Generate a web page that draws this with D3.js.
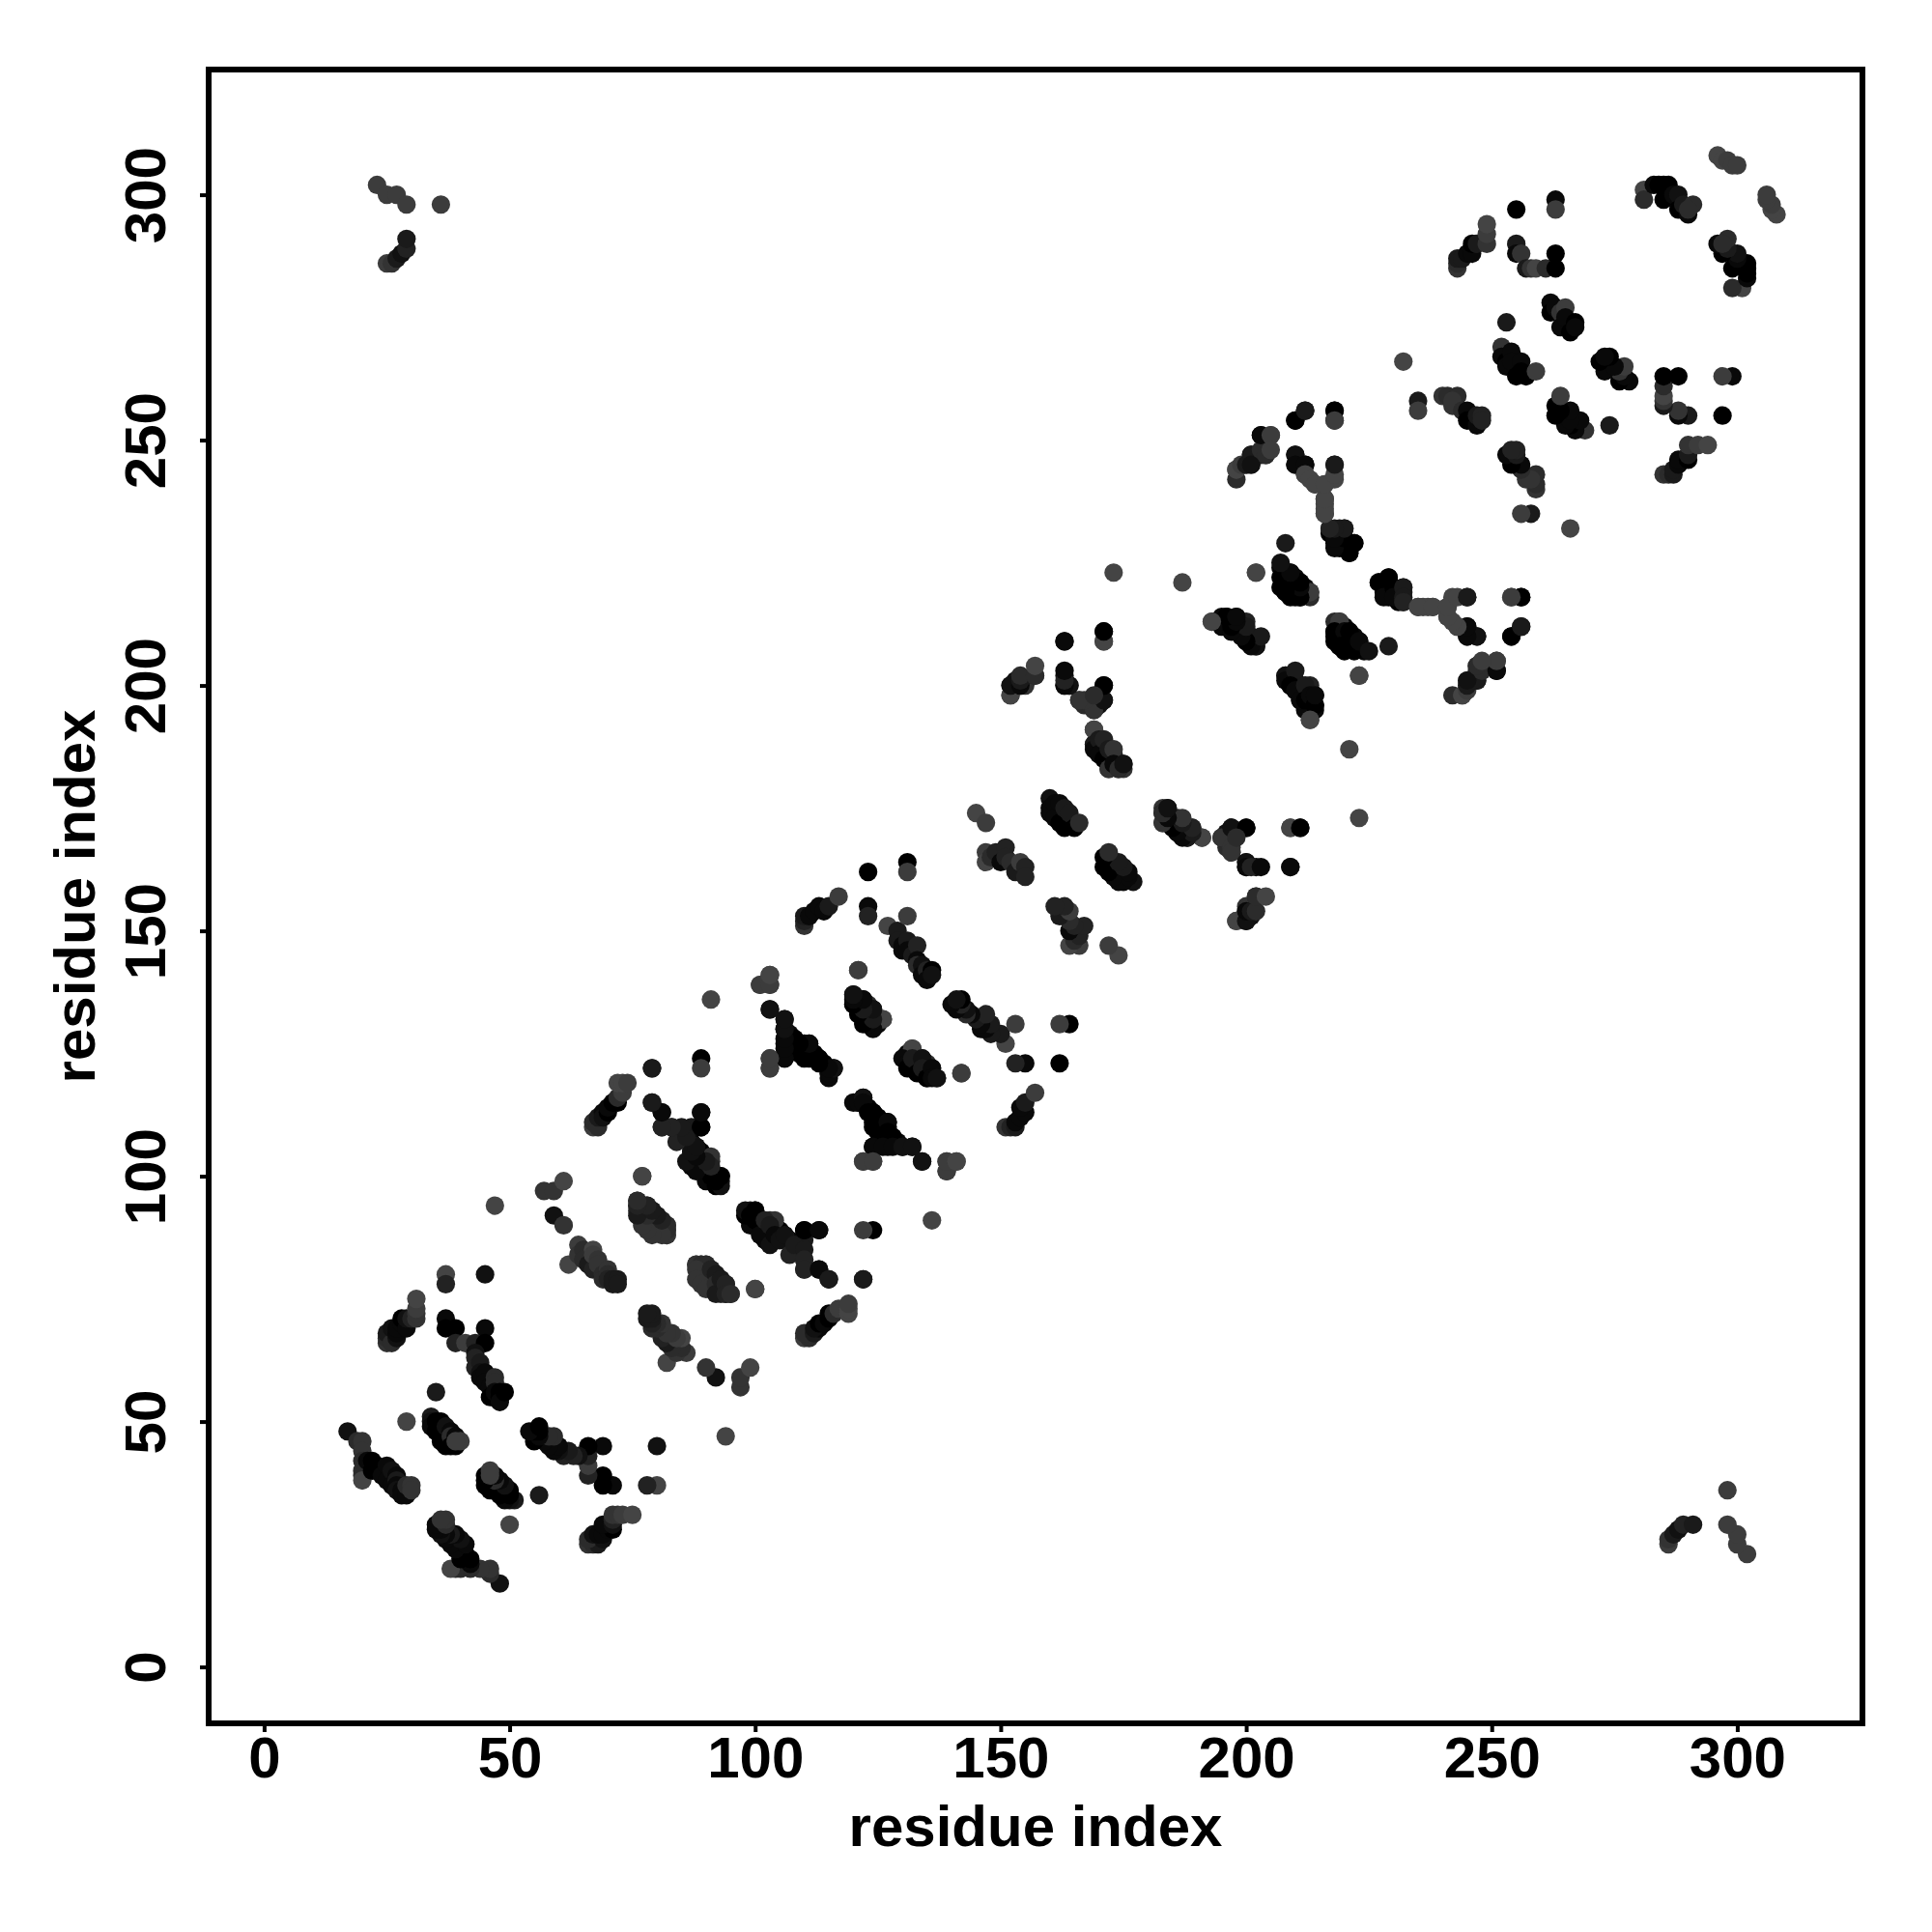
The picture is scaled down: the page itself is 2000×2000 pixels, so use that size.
<!DOCTYPE html>
<html><head><meta charset="utf-8">
<script src="https://cdn.jsdelivr.net/npm/d3@7"></script>
<style>html,body{margin:0;padding:0;background:#fff}svg{display:block}</style>
</head><body><div id="chart"></div>
<script>
// Contacts as [residue i, residue j, shade level 0 (black) .. 8 (dark grey)], i < j. The map is symmetric.
const contacts01 = [[17,48,2],[19,46,5],[20,46,6],[20,44,6],[20,42,5],[20,40,5],[20,39,5],[20,38,8],[21,42,1],[22,42,0],[22,40,0],[23,41,0],[24,40,0],[24,39,1],[25,41,1],[25,38,1],[26,40,2],[26,37,1],[27,39,1],[27,38,3],[27,37,1],[27,36,2],[28,36,1],[28,35,1],[29,35,1],[29,37,5],[30,37,6],[30,36,6]];
const contacts02 = [[29,50,8],[34,51,3],[34,50,2],[34,49,1],[35,50,0],[35,48,0],[36,50,0],[36,47,0],[36,46,0],[37,49,2],[37,45,0],[38,48,1],[38,47,5],[38,45,0],[39,47,1],[39,45,0],[40,46,7],[39,46,7],[35,56,3]];
const contacts03 = [[37,80,8],[37,78,4],[45,80,2]];
const contacts04 = [[25,66,6],[25,67,5],[25,68,3],[26,66,5],[27,67,2],[26,69,2],[27,68,1],[27,69,1],[28,70,1],[28,71,0],[29,69,1],[29,71,2],[30,71,4],[31,71,6],[31,72,6],[31,73,7],[31,75,8]];
const contacts05 = [[37,71,1],[37,69,0],[39,69,0],[39,66,4],[41,66,7],[43,66,4],[45,69,1],[45,66,0],[43,64,2],[43,63,4],[43,61,4],[44,62,3],[44,60,2],[44,59,1],[45,60,1],[45,58,1],[46,57,1],[46,55,0],[47,59,5],[47,58,5],[47,56,1],[48,56,0],[48,55,0],[48,54,1],[49,56,0]];
const contacts06 = [[47,94,8],[57,97,6],[59,97,6],[61,99,8],[59,92,2],[61,90,6]];
const contacts07 = [[62,82,8],[64,86,7],[64,84,6],[65,85,5],[65,83,5],[66,82,3],[67,81,4],[67,85,8],[67,84,7],[68,83,6],[68,82,6],[69,80,5],[69,79,5],[70,81,6],[70,80,5],[70,79,4],[71,78,3],[71,79,3],[72,79,3],[72,78,3]];
const contacts08 = [[67,110,7],[67,111,5],[68,110,5],[68,112,3],[69,113,1],[69,112,2],[70,113,0],[70,114,1],[71,115,0],[72,115,0],[72,116,5],[73,117,7],[72,119,8],[73,119,8],[74,119,7]];
const contacts09 = [[79,122,3],[89,124,0],[89,122,7],[79,115,3],[81,113,1],[81,110,7],[83,110,6],[85,109,6],[87,110,3],[89,113,0],[89,110,0],[87,107,1],[87,105,1],[87,104,1],[87,102,1],[88,106,6],[89,105,0],[91,103,5],[91,104,6],[90,99,1],[92,100,0],[92,98,0],[93,99,3],[93,100,0],[77,100,8]];
const contacts10 = [[76,95,5],[76,94,4],[76,93,5],[77,93,3],[78,94,2],[78,91,5],[79,93,3],[79,90,4],[80,92,4],[80,89,6],[81,91,5],[82,90,5],[82,89,5],[82,88,6]];
const contacts11 = [[88,82,6],[89,82,5],[90,82,5],[88,81,6],[88,79,6],[89,78,6],[90,77,6],[91,81,4],[92,80,3],[92,78,5],[92,76,3],[93,79,3],[94,78,4],[94,76,4],[95,76,5],[100,77,8]];
const contacts12 = [[98,93,2],[99,92,0],[100,93,0],[100,91,0],[101,88,1],[102,91,4],[103,90,3],[103,86,2],[104,88,1],[105,87,2],[106,88,2],[107,84,4],[108,86,3],[110,85,3],[110,83,4],[110,81,4],[110,89,0],[113,89,1],[113,81,1],[115,79,3],[122,79,3]];
const contacts13 = [[103,134,2],[106,132,2],[106,130,1],[106,127,1],[106,124,2],[103,124,8],[103,122,8],[107,129,1],[108,128,0],[109,125,0],[110,127,0],[110,124,0],[111,127,0],[112,125,0],[113,124,0],[114,123,0],[115,121,1],[116,122,2],[103,141,8],[101,139,7],[103,139,7],[91,136,8]];
const contacts14 = [[120,137,1],[120,135,1],[121,134,0],[122,136,1],[122,133,0],[123,135,5],[123,131,1],[124,134,2],[124,132,0],[125,131,1],[126,132,7],[121,142,7]];
const contacts15 = [[127,151,8],[129,150,3],[129,148,3],[130,147,1],[130,146,1],[131,148,3],[131,146,1],[132,145,3],[133,147,4],[133,144,1],[133,143,5],[134,143,2],[134,141,1],[135,142,4],[135,140,1],[136,142,0],[136,141,2],[123,162,0],[131,164,0],[131,162,7],[123,155,1],[123,153,4],[131,153,7]];
const contacts16 = [[110,151,6],[110,152,4],[110,153,3],[111,153,1],[112,154,1],[113,155,1],[114,154,1],[115,155,3],[117,157,7]];
const contacts17 = [[120,115,1],[121,115,1],[122,116,2],[122,115,1],[123,113,0],[124,113,0],[124,111,0],[125,110,0],[126,111,0],[126,108,0],[127,111,1],[127,109,0],[128,108,0],[124,106,1],[126,106,1],[128,106,1],[130,106,2],[132,106,2],[122,103,7],[124,103,7],[134,103,2],[139,101,7],[139,103,7],[141,103,8]];
const contacts18 = [[132,126,8],[130,124,1],[131,123,1],[131,122,0],[132,124,3],[133,121,0],[134,124,2],[134,122,3],[135,120,0],[136,122,1],[136,120,1],[137,120,2],[142,121,7]];
const contacts19 = [[145,174,8],[147,172,7],[147,166,7],[147,164,8],[148,165,5],[149,166,4],[150,164,1],[151,167,4],[151,165,4],[152,164,5],[153,162,3],[154,164,7],[155,163,4],[155,161,4]];
const contacts20 = [[160,177,2],[160,175,1],[160,174,1],[161,176,1],[161,173,1],[162,176,1],[162,172,0],[163,175,3],[163,171,0],[164,174,3],[165,171,0],[166,172,5]];
const contacts21 = [[183,175,6],[184,175,3],[183,174,2],[183,172,7],[185,173,1],[186,173,3],[186,170,2],[187,172,4],[188,169,4],[189,171,6],[191,169,8]];
const contacts22 = [[152,198,8],[152,200,4],[153,201,2],[154,200,3],[155,201,1],[155,200,6],[157,202,4],[163,202,2],[163,200,1],[164,200,5],[163,209,0],[171,209,7],[171,211,0],[171,200,0],[171,197,1],[166,197,7],[167,196,5],[168,197,5],[169,197,4],[169,195,3],[170,196,2]];
const contacts23 = [[169,191,8],[169,188,3],[169,187,1],[170,189,3],[170,186,1],[171,189,4],[171,185,0],[172,187,3],[172,183,6],[173,187,6],[173,184,1],[174,183,5],[175,184,2],[173,223,8],[187,221,8]];
const contacts24 = [[195,169,6],[197,171,2],[197,167,6],[197,166,6],[200,171,0],[198,169,5],[200,164,2],[200,163,1],[201,163,4],[203,163,1],[209,163,1],[209,171,8],[211,171,0],[198,152,8],[200,152,2],[200,154,1],[201,154,3],[202,154,5],[202,157,5],[204,157,8]];
const contacts25 = [[193,213,8],[195,214,1],[196,214,0],[195,212,1],[197,213,0],[198,214,1],[197,211,1],[199,212,2],[199,210,1],[200,213,4],[200,209,0],[201,210,2],[202,209,3],[202,208,3],[202,223,8],[208,229,3]];
const contacts26 = [[207,224,1],[207,222,0],[208,223,0],[208,221,0],[208,219,0],[209,223,1],[210,222,1],[209,220,7],[210,218,0],[211,221,0],[211,218,0],[212,220,1],[213,219,6]];
const contacts27 = [[208,202,2],[208,201,1],[210,203,3],[209,200,0],[210,199,1],[211,197,1],[212,200,3],[212,197,0],[213,198,1],[214,196,0],[214,198,1],[213,193,8]];
const contacts28 = [[218,213,5],[219,213,7],[218,211,0],[218,209,0],[220,211,1],[219,208,0],[221,211,0],[221,209,0],[220,207,0],[222,208,0],[223,209,1],[225,207,2],[223,202,8]];
const contacts29 = [[216,235,8],[216,236,8],[216,237,8],[216,238,8],[217,231,0],[217,232,1],[218,229,0],[219,232,3],[220,232,4],[219,229,0],[220,228,0],[221,229,0],[222,229,1],[221,227,1]];
const contacts30 = [[227,221,0],[229,222,0],[228,219,0],[228,218,1],[230,220,0],[230,218,1],[232,220,3],[232,218,3],[232,217,4],[235,216,8],[238,216,8],[241,216,8],[242,218,8],[241,214,8],[243,212,7],[245,218,3],[245,212,1],[245,210,1],[247,210,1],[254,218,7],[256,218,0],[256,212,2],[254,210,0]];
const contacts31 = [[242,198,5],[244,198,7],[245,200,1],[245,201,1],[246,201,6],[247,201,2],[247,203,4],[247,204,4],[249,204,5],[251,203,0],[251,205,6]];
const contacts32 = [[198,244,8],[199,245,7],[200,245,3],[201,247,3],[201,245,2],[203,248,5],[203,251,1],[204,247,5],[205,251,7],[205,248,7],[210,254,0],[212,256,3],[218,256,0],[218,254,7],[210,247,2],[210,245,1],[212,245,1],[212,243,8],[213,242,8],[214,241,8],[216,241,8],[218,243,8],[218,245,3]];
const contacts33 = [[235,258,3],[235,256,7],[240,259,6],[241,259,5],[243,259,5],[242,257,6],[242,258,6],[244,256,5],[245,256,1],[245,254,0],[247,253,1],[247,255,3],[248,255,4],[248,254,4],[232,266,8]];
const contacts34 = [[252,269,6],[252,267,1],[253,266,0],[253,265,1],[254,268,1],[254,266,1],[255,263,0],[256,266,1],[256,264,0],[257,263,0],[259,264,7],[253,274,3]];
const contacts35 = [[255,297,0],[263,299,1],[263,297,7],[255,290,3],[255,288,1],[256,288,6],[257,285,3],[258,285,6],[259,285,8],[261,285,5],[263,288,0],[263,285,0]];
const contacts36 = [[243,285,6],[243,286,5],[243,287,3],[244,287,3],[245,288,1],[246,288,1],[246,290,0],[247,290,3],[249,290,6],[249,292,7],[249,294,8]];
const contacts37 = [[262,278,1],[262,276,0],[263,277,1],[264,276,6],[265,277,7],[264,273,1],[265,275,1],[266,272,0],[267,274,0],[267,273,1]];
const contacts38 = [[281,301,8],[281,299,5],[283,302,1],[284,302,0],[285,302,0],[285,299,0],[286,302,0],[287,300,1],[288,300,2],[288,297,0],[289,298,3],[290,296,1],[291,298,5],[290,297,5]];
const contacts39 = [[296,308,8],[297,307,8],[298,307,7],[299,306,7],[300,306,7]];
const contacts40 = [[23,302,7],[25,300,7],[27,300,7],[29,298,7],[36,298,7],[25,286,7],[26,286,6],[27,287,3],[28,288,2],[29,289,4],[29,291,3]];
const contactSets = [contacts01,contacts02,contacts03,contacts04,contacts05,contacts06,contacts07,contacts08,contacts09,contacts10,contacts11,contacts12,contacts13,contacts14,contacts15,contacts16,contacts17,contacts18,contacts19,contacts20,contacts21,contacts22,contacts23,contacts24,contacts25,contacts26,contacts27,contacts28,contacts29,contacts30,contacts31,contacts32,contacts33,contacts34,contacts35,contacts36,contacts37,contacts38,contacts39,contacts40];
const tickValues = [0,50,100,150,200,250,300];
const axisTitle = "residue index";

const W = 2000, H = 2000;
const frame = {l:216, r:1928, t:72, b:1784};
const x = d3.scaleLinear().domain([0,300]).range([273.4,1798.4]);
const y = d3.scaleLinear().domain([0,300]).range([1725.6,201.6]);
const shade = d3.scaleLinear().domain([0,8]).range(["#000000","#444444"]);
const font = "'Liberation Sans', Arial, sans-serif";

const svg = d3.select("#chart").append("svg").attr("width",W).attr("height",H);
svg.append("rect").attr("width",W).attr("height",H).attr("fill","#fff");

// symmetric map: each contact is drawn at (i,j) and (j,i)
const pts = contactSets.flat().flatMap(d => [{a:d[0],b:d[1],s:d[2]},{a:d[1],b:d[0],s:d[2]}]);
svg.append("g").selectAll("circle").data(pts).join("circle")
  .attr("cx",d=>x(d.a)).attr("cy",d=>y(d.b)).attr("r",9.6).attr("fill",d=>shade(d.s));

const xAxis = svg.append("g").attr("transform",`translate(0,${frame.b})`)
  .call(d3.axisBottom(x).tickValues(tickValues).tickSize(9).tickPadding(0).tickFormat(d3.format("d")));
const yAxis = svg.append("g").attr("transform",`translate(${frame.l},0)`)
  .call(d3.axisLeft(y).tickValues(tickValues).tickSize(9).tickPadding(0).tickFormat(d3.format("d")));
[xAxis,yAxis].forEach(a=>{
  a.select(".domain").remove();
  a.selectAll(".tick line").attr("stroke","#000").attr("stroke-width",4);
  a.selectAll(".tick text").attr("fill","#000").attr("font-family",font).attr("font-weight",700).attr("font-size",60);
});
xAxis.selectAll(".tick text").attr("text-anchor","middle").attr("dy",null).attr("y",56);
yAxis.selectAll(".tick text").attr("text-anchor","middle").attr("dy",null).attr("x",null)
  .attr("transform","translate(-45,0) rotate(-90)");

svg.append("rect").attr("x",frame.l).attr("y",frame.t).attr("width",frame.r-frame.l).attr("height",frame.b-frame.t)
  .attr("fill","none").attr("stroke","#000").attr("stroke-width",6);

svg.append("text").attr("x",(frame.l+frame.r)/2).attr("y",1911).attr("text-anchor","middle")
  .attr("font-family",font).attr("font-weight",700).attr("font-size",60).attr("fill","#000").text(axisTitle);
svg.append("text").attr("transform",`translate(98,${(frame.t+frame.b)/2}) rotate(-90)`).attr("text-anchor","middle")
  .attr("font-family",font).attr("font-weight",700).attr("font-size",60).attr("fill","#000").text(axisTitle);
</script></body></html>
